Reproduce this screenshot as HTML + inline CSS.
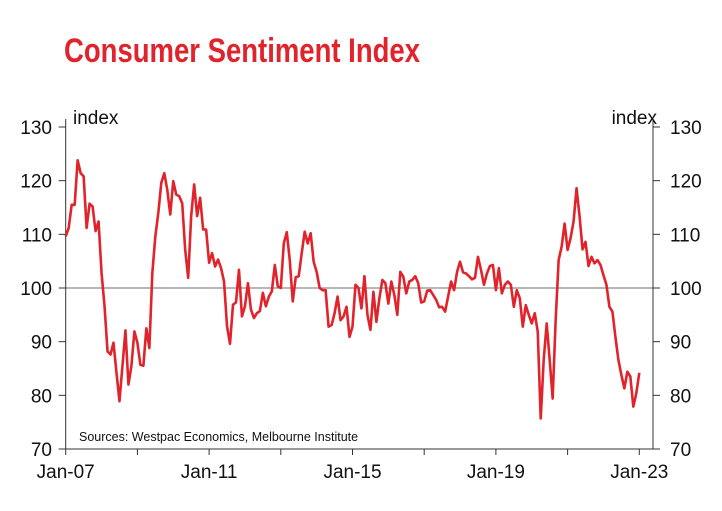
<!DOCTYPE html>
<html><head><meta charset="utf-8">
<style>
html,body{margin:0;padding:0;background:#fff;}
svg{display:block;font-family:"Liberation Sans",Arial,sans-serif;}
</style></head>
<body>
<svg id="chart" width="722" height="511" viewBox="0 0 722 511">
<text x="64" y="62" font-family="'Liberation Sans Narrow','Liberation Sans',sans-serif" font-weight="bold" font-size="34" fill="#e1232b" textLength="356" lengthAdjust="spacingAndGlyphs">Consumer Sentiment Index</text>
<g id="axes"></g>
<g id="plot"></g>
</svg>
<script>
const years = ["Jan-07","Jan-11","Jan-15","Jan-19","Jan-23"];
const yTicks = [70,80,90,100,110,120,130];
const startYear = 2007;
const sentiment = [
109.6,111.2,115.5,115.5,123.8,121.4,120.8,111.2,115.7,115.2,110.6,112.4,
102.8,96.6,88.2,87.6,89.8,84.2,78.9,85.5,92.1,82,85.5,91.9,
89.8,85.7,85.5,92.5,88.8,102.8,109.6,114,119.6,121.4,118.3,113.7,
119.9,117.4,117.1,115.8,107.1,101.9,113.4,119.3,113.4,116.8,110.9,110.9,
104.7,106.5,104,105.3,103.7,101.2,92.9,89.6,96.9,97.3,103.4,94.7,
96.6,100.9,96,94.4,95.3,95.7,99.1,96.6,98.4,99.4,104.3,100.3,
100,108.3,110.4,105.2,97.5,102,102.2,106.5,110.5,108.3,110.2,104.9,
103,100,99.6,99.6,92.8,93.1,95.3,98.4,94,94.7,96.5,90.9,
92.8,100.6,100,96.2,102.2,95,92.2,99.3,93.7,98.1,101.5,100.9,
97.1,101.2,98.7,95,103,102.1,99,101.2,101.5,102.2,100.9,97.3,
97.5,99.5,99.6,98.7,97.8,96.4,96.5,95.6,98.4,101.2,99.6,103,
104.9,102.9,102.7,102.2,101.6,101.9,105.8,103.4,100.6,102.7,104.1,104.3,
99.6,103.7,99,100.6,101.2,100.6,96.5,99.6,98.1,92.8,96.8,95,
93.4,95.3,91.9,75.7,86.6,93.4,86.6,79.4,94,105.2,107.7,112,
107.1,109.3,112.4,118.6,113.4,107.2,108.6,104.1,105.8,104.6,105.2,104.3,
102.4,100.6,96.5,95.6,90.9,86.6,83.8,81.3,84.4,83.5,77.9,80.4,
84.2
];
const NS="http://www.w3.org/2000/svg";
const X0=65.7, X1=639.3, Y0=449, YT=127, XR=653;
function xScale(m){return X0+(X1-X0)*m/192;}
function yScale(v){return Y0-(v-70)*(Y0-YT)/60;}
function mk(tag,attrs,parent){const e=document.createElementNS(NS,tag);for(const k in attrs)e.setAttribute(k,attrs[k]);parent.appendChild(e);return e;}
const axes=document.getElementById('axes'), plot=document.getElementById('plot');
let el;
el=mk('line',{x1:X0,y1:yScale(100),x2:XR,y2:yScale(100),stroke:'#8c8c8c','stroke-width':1.3},axes);


el=mk('line',{x1:X0,y1:YT-8,x2:X0,y2:Y0,stroke:'#333','stroke-width':1},axes);


el=mk('line',{x1:XR,y1:YT-8,x2:XR,y2:Y0,stroke:'#333','stroke-width':1},axes);


el=mk('line',{x1:X0,y1:Y0,x2:XR,y2:Y0,stroke:'#333','stroke-width':1},axes);


yTicks.forEach(v=>{
  const y=yScale(v);
  let t=mk('line',{x1:X0-7,y1:y,x2:X0,y2:y,stroke:'#333'},axes);
  
  
  t=mk('line',{x1:XR,y1:y,x2:XR+7,y2:y,stroke:'#333'},axes);
  
  
  let l=mk('text',{x:52,y:y+7,'text-anchor':'end','font-size':19,fill:'#111'},axes);
  l.textContent=v;
  
  
  l=mk('text',{x:670,y:y+7,'font-size':19,fill:'#111'},axes);
  l.textContent=v;
  
  
});
for(let m=0;m<=192;m+=24){
  const x=xScale(m);
  const t=mk('line',{x1:x,y1:Y0,x2:x,y2:Y0+6,stroke:'#333'},axes);
  
  
}
years.forEach((lab,i)=>{
  const l=mk('text',{x:xScale(i*48),y:478,'text-anchor':'middle','font-size':19,fill:'#111'},axes);
  l.textContent=lab;
  
  
});
el=mk('text',{x:73,y:124,'font-size':19,fill:'#111'},axes);
el.textContent='index';


el=mk('text',{x:657,y:124,'text-anchor':'end','font-size':19,fill:'#111'},axes);
el.textContent='index';


el=mk('text',{x:79,y:441,'font-size':12.5,fill:'#111'},axes);
el.textContent='Sources: Westpac Economics, Melbourne Institute';


const d=sentiment.map((v,i)=>(i?'L':'M')+xScale(i).toFixed(2)+','+yScale(v).toFixed(2)).join(' ');
el=mk('path',{d:d,fill:'none',stroke:'#e1232b','stroke-width':2.6,'stroke-linejoin':'round'},plot);


</script>
</body></html>
